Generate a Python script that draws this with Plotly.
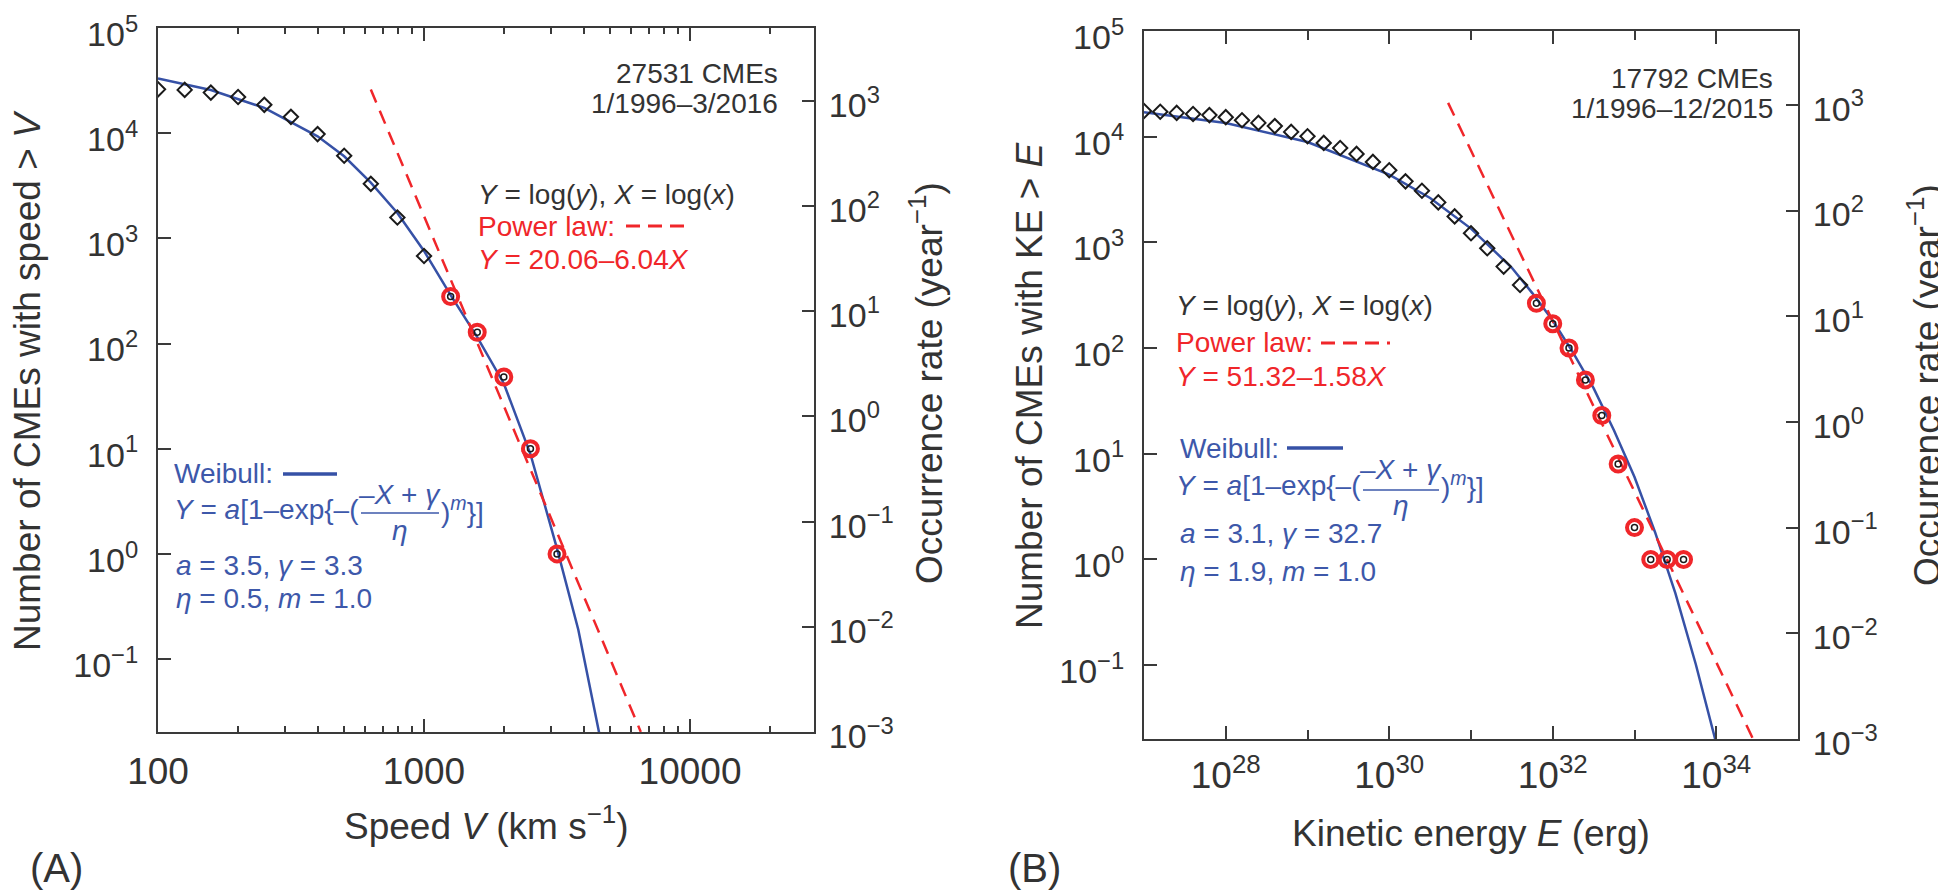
import numpy as np
import plotly.graph_objects as go

W, H = 1946, 892

# ---------------- Panel A data (speed) ----------------
speed_black = [100, 126, 158, 200, 251, 316, 398, 501, 631, 794, 1000]
count_black_A = [26100, 25800, 24300, 22100, 18600, 14300, 9800, 6100, 3300, 1580, 680]
speed_red = [1259, 1585, 1995, 2512, 3162]
count_red_A = [280, 128, 48, 10, 1]
weib_speed = [100, 158, 251, 398, 501, 631, 794, 1000, 1259, 1585, 1995, 2512, 3162, 3802, 4600]
weib_count_A = [33100, 25700, 17400, 9330, 6030, 3390, 1740, 759, 288, 115, 41.7, 8.9, 1.12, 0.19, 0.0175]
pl_speed = [631, 6530]
pl_count_A = [26000, 0.0203]
years_A = 20.25
xticks_A = [100, 1000, 10000]
xticklabels_A = ["100", "1000", "10000"]
xminor_A = [200, 300, 400, 500, 600, 700, 800, 900, 2000, 3000, 4000, 5000, 6000, 7000, 8000, 9000, 20000]

# ---------------- Panel B data (kinetic energy) ----------------
energy_black = [1.0e27, 1.58e27, 2.51e27, 3.98e27, 6.31e27, 1.0e28, 1.58e28, 2.51e28, 3.98e28, 6.31e28,
                1.0e29, 1.58e29, 2.51e29, 3.98e29, 6.31e29, 1.0e30, 1.58e30, 2.51e30, 3.98e30, 6.31e30,
                1.0e31, 1.58e31, 2.51e31, 3.98e31]
count_black_B = [17500, 17200, 16800, 16400, 16000, 15300, 14300, 13500, 12600, 11100,
                 10100, 8730, 7820, 6870, 5770, 4810, 3780, 3080, 2390, 1760,
                 1220, 880, 590, 395]
energy_red = [6.31e31, 1.0e32, 1.58e32, 2.51e32, 3.98e32, 6.31e32, 1.0e33, 1.58e33, 2.51e33, 3.98e33]
count_red_B = [265, 170, 100, 50, 23, 8, 2, 1, 1, 1]
weib_energy = [1e27, 1e28, 1e29, 1e30, 3.16e30, 1e31, 3.16e31, 5.62e31, 1e32, 1.78e32, 3.16e32,
               5.62e32, 1e33, 1.78e33, 3.16e33, 5.62e33, 1e34]
weib_count_B = [17000, 13500, 8910, 4370, 2630, 1350, 575, 331, 182, 90, 41.7,
                16.6, 6.03, 1.82, 0.479, 0.102, 0.0182]
pl_energy = [5.25e30, 2.82e34]
pl_count_B = [20900, 0.0200]
years_B = 20.0
xticks_B = [1e28, 1e30, 1e32, 1e34]
xticklabels_B = ["10<sup>28</sup>", "10<sup>30</sup>", "10<sup>32</sup>", "10<sup>34</sup>"]
xminor_B = [1e29, 1e31, 1e33]

# tick labels for count / rate axes
yticks_left = [1e-1, 1e0, 1e1, 1e2, 1e3, 1e4, 1e5]
yticklabels_left = ["10<sup>−1</sup>", "10<sup>0</sup>", "10<sup>1</sup>", "10<sup>2</sup>",
                    "10<sup>3</sup>", "10<sup>4</sup>", "10<sup>5</sup>"]
yticks_right = [1e-3, 1e-2, 1e-1, 1e0, 1e1, 1e2, 1e3]
yticklabels_right = ["10<sup>−3</sup>", "10<sup>−2</sup>", "10<sup>−1</sup>", "10<sup>0</sup>",
                     "10<sup>1</sup>", "10<sup>2</sup>", "10<sup>3</sup>"]

FONT = "Liberation Sans, Arial, Helvetica, sans-serif"
AX = "#3a3a3a"
TXT = "#333333"
BLUE = "#3651a6"
BLUET = "#3d58aa"
RED = "#f0262a"


def px(x):
    return x / W


def py(y):
    return 1 - y / H


fig = go.Figure()


def add_panel(xa, ya, wx, wy, plx, ply, bx, by, rx, ry):
    fig.add_trace(go.Scatter(x=wx, y=wy, mode="lines", line=dict(color=BLUE, width=2.5),
                             xaxis=xa, yaxis=ya, showlegend=False, hoverinfo="skip"))
    fig.add_trace(go.Scatter(x=plx, y=ply, mode="lines", line=dict(color=RED, width=2.5, dash="14px,9px"),
                             xaxis=xa, yaxis=ya, showlegend=False, hoverinfo="skip"))
    fig.add_trace(go.Scatter(x=bx, y=by, mode="markers",
                             marker=dict(symbol="diamond-open", size=11, color="#1a1a1a", line=dict(width=2, color="#1a1a1a")),
                             xaxis=xa, yaxis=ya, showlegend=False))
    fig.add_trace(go.Scatter(x=rx, y=ry, mode="markers",
                             marker=dict(symbol="circle-open", size=15, color=RED, line=dict(width=4, color=RED)),
                             xaxis=xa, yaxis=ya, showlegend=False, hoverinfo="skip"))
    fig.add_trace(go.Scatter(x=rx, y=ry, mode="markers",
                             marker=dict(symbol="circle-open", size=6, color="#1a1a1a", line=dict(width=1.5, color="#1a1a1a")),
                             xaxis=xa, yaxis=ya, showlegend=False))


add_panel("x", "y", weib_speed, weib_count_A, pl_speed, pl_count_A,
          speed_black, count_black_A, speed_red, count_red_A)
add_panel("x2", "y3", weib_energy, weib_count_B, pl_energy, pl_count_B,
          energy_black, count_black_B, energy_red, count_red_B)

# dummy traces so the right-hand axes are drawn
fig.add_trace(go.Scatter(x=[None], y=[None], xaxis="x", yaxis="y2", showlegend=False))
fig.add_trace(go.Scatter(x=[None], y=[None], xaxis="x2", yaxis="y4", showlegend=False))

lowA = np.log10(0.001 * years_A)
lowB = np.log10(0.001 * years_B)

common_axis = dict(showgrid=False, zeroline=False, showline=True, linecolor=AX, linewidth=2,
                   ticks="inside", tickcolor=AX, tickwidth=2, automargin=False,
                   ticklabeloverflow="allow")
xfont = dict(family=FONT, size=37, color=TXT)
yfont = dict(family=FONT, size=34, color=TXT)

fig.update_layout(
    width=W, height=H,
    margin=dict(l=0, r=0, t=0, b=0, autoexpand=False),
    paper_bgcolor="white", plot_bgcolor="white",
    xaxis=dict(common_axis, domain=[px(150), px(806)], type="log", range=[2, 4.466], anchor="y",
               tickvals=xticks_A, ticktext=xticklabels_A, ticklen=13, mirror="ticks",
               tickfont=xfont, ticklabelstandoff=6,
               minor=dict(tickvals=xminor_A, ticklen=6, ticks="inside", tickcolor=AX, tickwidth=2)),
    yaxis=dict(common_axis, domain=[py(724), py(20)], type="log", range=[lowA, 5], anchor="x",
               tickvals=yticks_left, ticktext=yticklabels_left, ticklen=13, mirror=True,
               tickfont=yfont, ticklabelstandoff=11, ticklabelshift=6),
    yaxis2=dict(common_axis, domain=[py(724), py(20)], type="log", overlaying="y", side="right", anchor="x",
                range=[lowA - np.log10(years_A), 5 - np.log10(years_A)],
                tickvals=yticks_right, ticktext=yticklabels_right, ticklen=12,
                tickfont=yfont, ticklabelstandoff=6, ticklabelshift=4),
    xaxis2=dict(common_axis, domain=[px(1136), px(1790)], type="log", range=[27, 35], anchor="y3",
                tickvals=xticks_B, ticktext=xticklabels_B, ticklen=13, mirror="ticks",
                tickfont=xfont, ticklabelstandoff=3,
                minor=dict(tickvals=xminor_B, ticklen=9, ticks="inside", tickcolor=AX, tickwidth=2)),
    yaxis3=dict(common_axis, domain=[py(731), py(23)], type="log", range=[lowB, 5], anchor="x2",
                tickvals=yticks_left, ticktext=yticklabels_left, ticklen=13, mirror=True,
                tickfont=yfont, ticklabelstandoff=11, ticklabelshift=6),
    yaxis4=dict(common_axis, domain=[py(731), py(23)], type="log", overlaying="y3", side="right", anchor="x2",
                range=[lowB - np.log10(years_B), 5 - np.log10(years_B)],
                tickvals=yticks_right, ticktext=yticklabels_right, ticklen=12,
                tickfont=yfont, ticklabelstandoff=6, ticklabelshift=4),
)

ann = []


def text(x, y, s, color=TXT, size=28, xanchor="left", angle=0):
    ann.append(dict(x=px(x), y=py(y), xref="paper", yref="paper", text=s, showarrow=False,
                    xanchor=xanchor, yanchor="middle", textangle=angle,
                    font=dict(family=FONT, size=size, color=color)))


shapes = []


def hline(x0, x1, y, color, dash="solid", width=3):
    shapes.append(dict(type="line", xref="paper", yref="paper", x0=px(x0), x1=px(x1), y0=py(y), y1=py(y),
                       line=dict(color=color, width=width, dash=dash)))


# axis titles
text(478, 815, "Speed <i>V</i> (km s<sup>−1</sup>)", size=37, xanchor="center")
text(1463, 825, "Kinetic energy <i>E</i> (erg)", size=37, xanchor="center")
text(20, 373, "Number of CMEs with speed > <i>V</i>", size=37, xanchor="center", angle=-90)
text(1022, 377, "Number of CMEs with KE > <i>E</i>", size=37, xanchor="center", angle=-90)
text(918, 375, "Occurrence rate (year<sup>−1</sup>)", size=37, xanchor="center", angle=-90)
text(1917, 377, "Occurrence rate (year<sup>−1</sup>)", size=37, xanchor="center", angle=-90)
text(20, 860, "(A)", size=40)
text(998, 860, "(B)", size=40)

# panel A annotations
text(772, 66, "27531 CMEs", xanchor="right")
text(772, 96, "1/1996–3/2016", xanchor="right")
text(468, 186, "<i>Y</i> = log(<i>y</i>), <i>X</i> = log(<i>x</i>)")
text(468, 218, "Power law:", color=RED)
hline(618, 683, 218, RED, dash="14px,8px")
text(468, 252, "<i>Y</i> = 20.06–6.04<i>X</i>", color=RED)
text(164, 466, "Weibull:", color=BLUET)
hline(275, 329, 466, BLUE, width=3.5)
text(353, 502, "<i>Y</i> = <i>a</i>[1–exp{–(", color=BLUET, xanchor="right")
text(392, 486, "–<i>X</i> + <i>γ</i>", color=BLUET, xanchor="center")
hline(353, 431, 505, BLUET, width=1.5)
text(392, 522, "<i>η</i>", color=BLUET, xanchor="center")
text(431, 502, ")<sup><i>m</i></sup>}]", color=BLUET)
text(166, 557, "<i>a</i> = 3.5, <i>γ</i> = 3.3", color=BLUET)
text(166, 590, "<i>η</i> = 0.5, <i>m</i> = 1.0", color=BLUET)

# panel B annotations
text(1767, 70, "17792 CMEs", xanchor="right")
text(1767, 101, "1/1996–12/2015", xanchor="right")
text(1166, 298, "<i>Y</i> = log(<i>y</i>), <i>X</i> = log(<i>x</i>)")
text(1166, 335, "Power law:", color=RED)
hline(1313, 1382, 335, RED, dash="14px,8px")
text(1166, 368, "<i>Y</i> = 51.32–1.58<i>X</i>", color=RED)
text(1170, 440, "Weibull:", color=BLUET)
hline(1279, 1335, 440, BLUE, width=3.5)
text(1355, 477, "<i>Y</i> = <i>a</i>[1–exp{–(", color=BLUET, xanchor="right")
text(1393, 461, "–<i>X</i> + <i>γ</i>", color=BLUET, xanchor="center")
hline(1355, 1431, 482, BLUET, width=1.5)
text(1393, 497, "<i>η</i>", color=BLUET, xanchor="center")
text(1431, 477, ")<sup><i>m</i></sup>}]", color=BLUET)
text(1170, 525, "<i>a</i> = 3.1, <i>γ</i> = 32.7", color=BLUET)
text(1170, 563, "<i>η</i> = 1.9, <i>m</i> = 1.0", color=BLUET)

fig.update_layout(annotations=ann, shapes=shapes)
fig.write_html("out.html")
